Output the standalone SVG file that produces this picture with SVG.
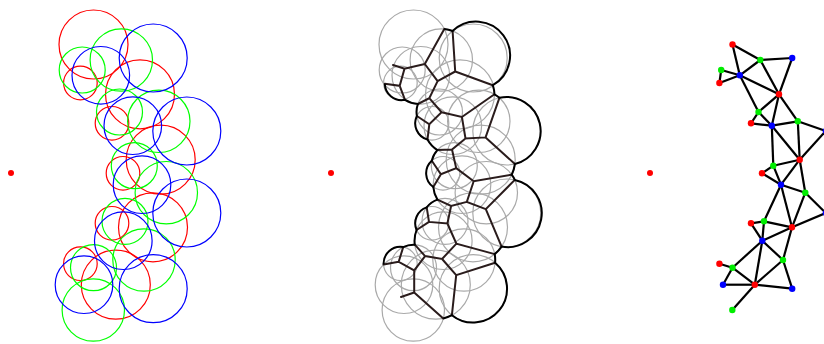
<svg xmlns="http://www.w3.org/2000/svg" xmlns:xlink="http://www.w3.org/1999/xlink" width="824" height="344" viewBox="0 0 824 344">
<style>
.c{fill:none;stroke-width:1.2}
.pd{fill:none;stroke:#2a1c1c;stroke-width:2;stroke-linecap:round}
.arc{fill:none;stroke:#000;stroke-width:2;stroke-linejoin:round}
.e{stroke:#000;stroke-width:2.2}
.r{fill:#ff0000}.g{fill:#00ee00}.b{fill:#0000ff}
</style>
<defs>
<g id="redC" class="c">
<circle cx="93.5" cy="44.5" r="34.5"/><circle cx="80.4" cy="83" r="16.8"/><circle cx="140" cy="94.3" r="34.5"/><circle cx="112" cy="123.3" r="16.8"/><circle cx="160.7" cy="159.7" r="34.5"/><circle cx="123" cy="173.3" r="16.8"/><circle cx="112" cy="223.3" r="16.8"/><circle cx="153" cy="227.3" r="34.5"/><circle cx="80.4" cy="263.7" r="16.8"/><circle cx="115.8" cy="284.7" r="34.5"/>
</g>
<g id="greenC" class="c">
<circle cx="121.3" cy="60" r="31.2"/><circle cx="82.2" cy="70" r="23"/><circle cx="119.5" cy="112" r="23"/><circle cx="158.8" cy="121.3" r="31.2"/><circle cx="134.3" cy="165.7" r="23"/><circle cx="166.3" cy="192.7" r="31.2"/><circle cx="125" cy="221.3" r="23"/><circle cx="144" cy="260" r="31.2"/><circle cx="93.5" cy="267.7" r="23"/><circle cx="93.3" cy="310" r="31.2"/>
</g>
<g id="blueC" class="c">
<circle cx="153.2" cy="58" r="34"/><circle cx="100.8" cy="75.3" r="28.8"/><circle cx="132.8" cy="125.7" r="28.8"/><circle cx="186.8" cy="131" r="34"/><circle cx="142" cy="184.7" r="28.8"/><circle cx="186.8" cy="213" r="34"/><circle cx="123.3" cy="240.7" r="28.8"/><circle cx="84" cy="284.7" r="28.8"/><circle cx="153.2" cy="288.7" r="34"/>
</g>
</defs>
<rect width="824" height="344" fill="#fff"/>
<g id="panel-circles">
<use xlink:href="#redC" stroke="#ff0000"/>
<use xlink:href="#greenC" stroke="#00ff00"/>
<use xlink:href="#blueC" stroke="#0000ff"/>
<circle cx="11" cy="173" r="3" class="r"/>
</g>
<g id="panel-power">
<g stroke="#a9a9a9">
<use xlink:href="#redC" transform="translate(320,0)"/>
<use xlink:href="#greenC" transform="translate(320,0)"/>
<use xlink:href="#blueC" transform="translate(320,0)"/>
</g>
<circle cx="331" cy="173" r="3" class="r"/>
<path class="pd" d="M424.8,64 L444.3,28.9 M424.8,64 L437.6,81.1 M424.8,64 L404.5,68.8 L393,65 M404.5,68.8 L399.7,85.8 L384.8,83.7 M399.7,85.8 L405,99.8
M455.2,71.5 L452.6,31 M455.2,71.5 L437.6,81.1 M455.2,71.5 L492.8,85.2
M437.6,81.1 L429.3,98.2 L417.9,104 M429.3,98.2 L441.6,112.3 L429.3,124.3 L416.9,116 M429.3,124.3 L427.5,139.5
M441.6,112.3 L461.9,117 L494.5,94.3 M461.9,117 L465.5,138.4 L485.6,137.4 L499.4,97.8 M485.6,137.4 L514.9,164
M465.5,138.4 L452,149.5 L437.4,150.1 M452,149.5 L456.2,168.1 L440.9,174.3 L431.8,160.7 M440.9,174.3 L433.3,187
M456.2,168.1 L473.7,181.2 L511.7,174.7 M473.7,181.2 L466.8,201.9 L485.8,209.2 L514.8,179.9 M485.8,209.2 L501.6,246.6
M466.8,201.9 L451.1,206 L437.4,199.6 M451.1,206 L447.4,223.5 L429,221.9 L426.7,207.4 M429,221.9 L416.6,230
M447.4,223.5 L456.4,243.6 L494.7,254.1 M456.4,243.6 L442.1,259 L425.1,256.1 L414.8,244.7 M442.1,259 L456.2,275.2 L495.1,262.7 M456.2,275.2 L451.9,315.2
M425.1,256.1 L414.2,270.4 L398.7,261.8 L403.2,247.1 M398.7,261.8 L383.6,264.4 M414.2,270.4 L414.2,292.5 L443.3,318.4 M414.2,292.5 L401,297"/>
<path class="arc" d="M444.3,28.9 A31.2,31.2 0 0 1 452.6,31 A34,34 0 1 1 492.8,85.2 A34.5,34.5 0 0 1 494.5,94.3 A31.2,31.2 0 0 1 499.4,97.8 A34,34 0 0 1 514.9,164 A34.5,34.5 0 0 1 511.7,174.7 A31.2,31.2 0 0 1 514.8,179.9 A34,34 0 0 1 501.6,246.6 A34.5,34.5 0 0 1 494.7,254.1 A31.2,31.2 0 0 1 495.1,262.7 A34,34 0 0 1 451.9,315.2 A34.5,34.5 0 0 1 443.3,318.4"/>
<path class="arc" d="M384.8,83.7 A16.8,16.8 0 0 0 405,99.8 A28.8,28.8 0 0 0 417.9,104 A23,23 0 0 0 416.9,116 A16.8,16.8 0 0 0 427.5,139.5 A28.8,28.8 0 0 0 437.4,150.1 A23,23 0 0 0 431.8,160.7 A16.8,16.8 0 0 0 433.3,187 A28.8,28.8 0 0 0 437.4,199.6 A23,23 0 0 0 426.7,207.4 A16.8,16.8 0 0 0 416.6,230 A28.8,28.8 0 0 0 414.8,244.7 A23,23 0 0 0 403.2,247.1 A16.8,16.8 0 0 0 383.6,264.4"/>
</g>
<circle cx="650" cy="173" r="3" class="r"/>
<g id="connectors" class="e">
<line x1="732.5" y1="44.5" x2="760.3" y2="60"/>
<line x1="732.5" y1="44.5" x2="739.8" y2="75.3"/>
<line x1="760.3" y1="60" x2="792.2" y2="58"/>
<line x1="760.3" y1="60" x2="739.8" y2="75.3"/>
<line x1="760.3" y1="60" x2="779" y2="94.3"/>
<line x1="792.2" y1="58" x2="779" y2="94.3"/>
<line x1="721.2" y1="70" x2="739.8" y2="75.3"/>
<line x1="721.2" y1="70" x2="719.4" y2="83"/>
<line x1="739.8" y1="75.3" x2="719.4" y2="83"/>
<line x1="739.8" y1="75.3" x2="779" y2="94.3"/>
<line x1="739.8" y1="75.3" x2="758.5" y2="112"/>
<line x1="779" y1="94.3" x2="758.5" y2="112"/>
<line x1="779" y1="94.3" x2="771.8" y2="125.7"/>
<line x1="779" y1="94.3" x2="797.8" y2="121.3"/>
<line x1="758.5" y1="112" x2="751" y2="123.3"/>
<line x1="758.5" y1="112" x2="771.8" y2="125.7"/>
<line x1="751" y1="123.3" x2="771.8" y2="125.7"/>
<line x1="771.8" y1="125.7" x2="797.8" y2="121.3"/>
<line x1="797.8" y1="121.3" x2="825.8" y2="131"/>
<line x1="797.8" y1="121.3" x2="799.7" y2="159.7"/>
<line x1="771.8" y1="125.7" x2="799.7" y2="159.7"/>
<line x1="771.8" y1="125.7" x2="773.3" y2="165.7"/>
<line x1="825.8" y1="131" x2="799.7" y2="159.7"/>
<line x1="799.7" y1="159.7" x2="773.3" y2="165.7"/>
<line x1="773.3" y1="165.7" x2="762" y2="173.3"/>
<line x1="773.3" y1="165.7" x2="781" y2="184.7"/>
<line x1="762" y1="173.3" x2="781" y2="184.7"/>
<line x1="799.7" y1="159.7" x2="781" y2="184.7"/>
<line x1="799.7" y1="159.7" x2="805.3" y2="192.7"/>
<line x1="781" y1="184.7" x2="805.3" y2="192.7"/>
<line x1="805.3" y1="192.7" x2="825.8" y2="213"/>
<line x1="781" y1="184.7" x2="764" y2="221.3"/>
<line x1="781" y1="184.7" x2="792" y2="227.3"/>
<line x1="805.3" y1="192.7" x2="792" y2="227.3"/>
<line x1="825.8" y1="213" x2="792" y2="227.3"/>
<line x1="751" y1="223.3" x2="764" y2="221.3"/>
<line x1="751" y1="223.3" x2="762.3" y2="240.7"/>
<line x1="764" y1="221.3" x2="762.3" y2="240.7"/>
<line x1="764" y1="221.3" x2="792" y2="227.3"/>
<line x1="792" y1="227.3" x2="762.3" y2="240.7"/>
<line x1="762.3" y1="240.7" x2="783" y2="260"/>
<line x1="792" y1="227.3" x2="783" y2="260"/>
<line x1="762.3" y1="240.7" x2="732.5" y2="267.7"/>
<line x1="762.3" y1="240.7" x2="754.8" y2="284.7"/>
<line x1="783" y1="260" x2="754.8" y2="284.7"/>
<line x1="783" y1="260" x2="792.2" y2="288.7"/>
<line x1="719.4" y1="263.7" x2="732.5" y2="267.7"/>
<line x1="732.5" y1="267.7" x2="723" y2="284.7"/>
<line x1="732.5" y1="267.7" x2="754.8" y2="284.7"/>
<line x1="723" y1="284.7" x2="754.8" y2="284.7"/>
<line x1="754.8" y1="284.7" x2="792.2" y2="288.7"/>
<line x1="754.8" y1="284.7" x2="732.3" y2="310"/>
</g>
<g id="n1"><circle cx="732.5" cy="44.5" r="3.2" class="r"/></g>
<g id="n2"><circle cx="760.3" cy="60" r="3.2" class="g"/></g>
<g id="n3"><circle cx="792.2" cy="58" r="3.2" class="b"/></g>
<g id="n4"><circle cx="721.2" cy="70" r="3.2" class="g"/></g>
<g id="n5"><circle cx="739.8" cy="75.3" r="3.2" class="b"/></g>
<g id="n6"><circle cx="719.4" cy="83" r="3.2" class="r"/></g>
<g id="n7"><circle cx="779" cy="94.3" r="3.2" class="r"/></g>
<g id="n8"><circle cx="758.5" cy="112" r="3.2" class="g"/></g>
<g id="n9"><circle cx="751" cy="123.3" r="3.2" class="r"/></g>
<g id="n10"><circle cx="771.8" cy="125.7" r="3.2" class="b"/></g>
<g id="n11"><circle cx="797.8" cy="121.3" r="3.2" class="g"/></g>
<g id="n12"><circle cx="825.8" cy="131" r="3.2" class="b"/></g>
<g id="n13"><circle cx="799.7" cy="159.7" r="3.2" class="r"/></g>
<g id="n14"><circle cx="773.3" cy="165.7" r="3.2" class="g"/></g>
<g id="n15"><circle cx="762" cy="173.3" r="3.2" class="r"/></g>
<g id="n16"><circle cx="781" cy="184.7" r="3.2" class="b"/></g>
<g id="n17"><circle cx="805.3" cy="192.7" r="3.2" class="g"/></g>
<g id="n18"><circle cx="825.8" cy="213" r="3.2" class="b"/></g>
<g id="n19"><circle cx="751" cy="223.3" r="3.2" class="r"/></g>
<g id="n20"><circle cx="764" cy="221.3" r="3.2" class="g"/></g>
<g id="n21"><circle cx="792" cy="227.3" r="3.2" class="r"/></g>
<g id="n22"><circle cx="762.3" cy="240.7" r="3.2" class="b"/></g>
<g id="n23"><circle cx="783" cy="260" r="3.2" class="g"/></g>
<g id="n24"><circle cx="719.4" cy="263.7" r="3.2" class="r"/></g>
<g id="n25"><circle cx="732.5" cy="267.7" r="3.2" class="g"/></g>
<g id="n26"><circle cx="723" cy="284.7" r="3.2" class="b"/></g>
<g id="n27"><circle cx="754.8" cy="284.7" r="3.2" class="r"/></g>
<g id="n28"><circle cx="792.2" cy="288.7" r="3.2" class="b"/></g>
<g id="n29"><circle cx="732.3" cy="310" r="3.2" class="g"/></g>
</svg>
